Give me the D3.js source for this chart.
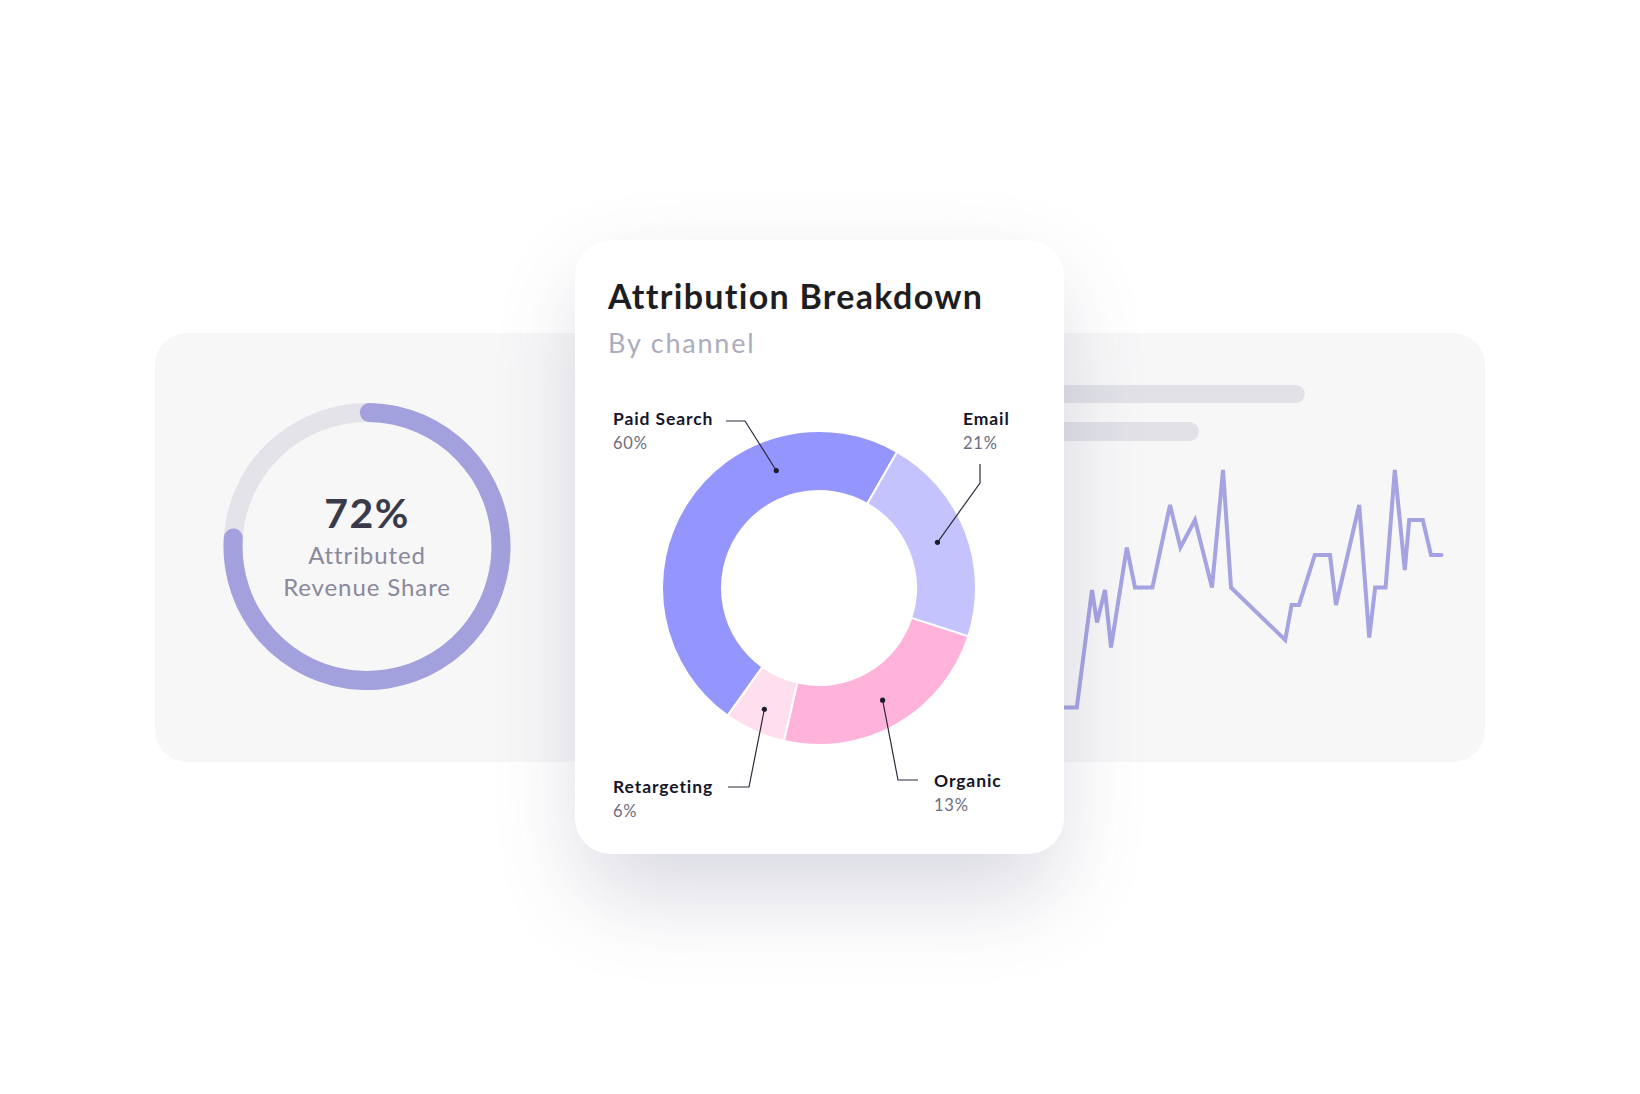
<!DOCTYPE html>
<html>
<head>
<meta charset="utf-8">
<script src="https://cdn.jsdelivr.net/npm/d3@7"></script>
<style>
  body { margin: 0; background: #ffffff; }
  svg { display: block; font-family: "Lato", "Noto Sans", sans-serif; }
</style>
</head>
<body>
<div id="chart"></div>
<script>
// data
var channels = ["Paid Search", "Email", "Organic", "Retargeting"];
var channelLabels = ["60%", "21%", "13%", "6%"];
var channelShares = [48.4, 21.7, 23.6, 6.3];   // slice sizes as drawn
var channelColors = ["#9595fe", "#c5c3fd", "#ffb3da", "#ffdfee"];

var ringLabel = "72%";
var ringShare = 0.78;                          // arc as drawn
var ringCaption = ["Attributed", "Revenue Share"];

var sparkT = [0, 9.2, 13, 14.25, 16.25, 17.75, 21.7, 23.75, 28.1, 32.5, 35.1, 38.75, 43, 45.75, 47.75,
  61.3, 62.9, 64.75, 68.7, 72.5, 74, 79.8, 82.3, 83.8, 86.4, 88.7, 91.2, 92.3, 95.7, 97.75, 100.4];
var sparkV = [5, 5, 52, 39, 52, 29, 69, 53, 53, 86, 69, 80, 53, 100, 53,
  32, 46, 46, 66, 66, 46, 86, 33, 53, 53, 100, 60, 80, 80, 66, 66];

var svgWidth = 1640;
var svgHeight = 1094;

var svg = d3.select("#chart")
  .append("svg")
  .attr("width", svgWidth)
  .attr("height", svgHeight);

// soft blur for the card shadow
var defs = svg.append("defs");
defs.append("filter")
  .attr("id", "blur")
  .attr("filterUnits", "userSpaceOnUse")
  .attr("x", 0).attr("y", 0)
  .attr("width", svgWidth).attr("height", svgHeight)
  .append("feGaussianBlur")
  .attr("stdDeviation", 46);

// back panel
svg.append("rect")
  .attr("x", 155).attr("y", 333)
  .attr("width", 1330).attr("height", 429)
  .attr("rx", 32)
  .attr("fill", "#f7f7f8");

// ---- left ring ----
var ring = svg.append("g")
  .attr("transform", "translate(367, 546.5)");

var ringArc = d3.arc()
  .innerRadius(124.5)
  .outerRadius(143.5)
  .cornerRadius(9.5);

var ringStart = -3.1 * Math.PI / 180;

ring.append("path")
  .attr("d", ringArc({ startAngle: 0, endAngle: 2 * Math.PI }))
  .attr("fill", "#e4e3ea");

ring.append("path")
  .attr("d", ringArc({ startAngle: ringStart, endAngle: ringStart + ringShare * 2 * Math.PI }))
  .attr("fill", "#a3a0de");

ring.append("text")
  .attr("text-anchor", "middle")
  .attr("y", -19)
  .attr("font-size", 41)
  .attr("font-weight", 700)
  .attr("letter-spacing", 1.5)
  .attr("fill", "#3a3a4b")
  .text(ringLabel);

ring.selectAll(".caption")
  .data(ringCaption)
  .enter()
  .append("text")
  .attr("class", "caption")
  .attr("text-anchor", "middle")
  .attr("y", (d, i) => 17.5 + i * 32)
  .attr("font-size", 24)
  .attr("letter-spacing", 0.9)
  .attr("fill", "#8a889c")
  .text(d => d);

// ---- right side: placeholder bars + sparkline ----
svg.append("rect")
  .attr("x", 1000).attr("y", 385)
  .attr("width", 305).attr("height", 18)
  .attr("rx", 9)
  .attr("fill", "#e1e1e7");

svg.append("rect")
  .attr("x", 1000).attr("y", 422)
  .attr("width", 199).attr("height", 19)
  .attr("rx", 9.5)
  .attr("fill", "#e1e1e7");

var xSpark = d3.scaleLinear().domain([0, 100]).range([1040, 1440]);
var ySpark = d3.scaleLinear().domain([0, 100]).range([720, 470]);

var sparkLine = d3.line()
  .x((d, i) => xSpark(sparkT[i]))
  .y(d => ySpark(d));

svg.append("path")
  .datum(sparkV)
  .attr("d", sparkLine)
  .attr("fill", "none")
  .attr("stroke", "#a5a3e1")
  .attr("stroke-width", 4)
  .attr("stroke-linejoin", "miter")
  .attr("stroke-linecap", "round");

// ---- front card ----
svg.append("rect")
  .attr("x", 585).attr("y", 280)
  .attr("width", 469).attr("height", 614)
  .attr("rx", 36)
  .attr("fill", "#3c3c6c")
  .attr("opacity", 0.2)
  .attr("filter", "url(#blur)");

svg.append("rect")
  .attr("x", 575).attr("y", 240)
  .attr("width", 489).attr("height", 614)
  .attr("rx", 36)
  .attr("fill", "#ffffff");

svg.append("text")
  .attr("x", 608).attr("y", 309)
  .attr("font-size", 34)
  .attr("font-weight", 700)
  .attr("letter-spacing", 1.3)
  .attr("fill", "#1e1e22")
  .text("Attribution Breakdown");

svg.append("text")
  .attr("x", 608).attr("y", 353)
  .attr("font-size", 27)
  .attr("letter-spacing", 1.8)
  .attr("fill", "#adacbf")
  .text("By channel");

// donut
var donut = svg.append("g")
  .attr("transform", "translate(819, 588)");

var startA = -144.4 * Math.PI / 180;
var pie = d3.pie()
  .sort(null)
  .startAngle(startA)
  .endAngle(startA + 2 * Math.PI);

var arcs = pie(channelShares);

var arc = d3.arc()
  .innerRadius(97)
  .outerRadius(157);

donut.selectAll(".slice")
  .data(arcs)
  .enter()
  .append("path")
  .attr("class", "slice")
  .attr("d", arc)
  .attr("fill", (d, i) => channelColors[i])
  .attr("stroke", "#ffffff")
  .attr("stroke-width", 2);

// label layout (relative to donut centre)
var labelLayout = [
  { anchorAngle: 340, anchorR: 125, elbow: [-74, -167], end: [-93, -167], text: [-206, -163] },
  { anchorAngle: null, anchorR: 127, elbow: [161, -105], end: [161, -124], text: [144, -163] },
  { anchorAngle: null, anchorR: 129, elbow: [79, 192], end: [99, 192], text: [115, 199] },
  { anchorAngle: null, anchorR: 133, elbow: [-70, 199], end: [-91, 199], text: [-206, 205] }
];

function anchorPoint(d, i) {
  var lay = labelLayout[i];
  var a = lay.anchorAngle !== null ? lay.anchorAngle * Math.PI / 180 : (d.startAngle + d.endAngle) / 2;
  return [lay.anchorR * Math.sin(a), -lay.anchorR * Math.cos(a)];
}

donut.selectAll(".leader")
  .data(arcs)
  .enter()
  .append("polyline")
  .attr("class", "leader")
  .attr("points", (d, i) => [anchorPoint(d, i), labelLayout[i].elbow, labelLayout[i].end].map(p => p.join(",")).join(" "))
  .attr("fill", "none")
  .attr("stroke", "#2b2b3b")
  .attr("stroke-width", 1.2);

donut.selectAll(".dot")
  .data(arcs)
  .enter()
  .append("circle")
  .attr("class", "dot")
  .attr("cx", (d, i) => anchorPoint(d, i)[0])
  .attr("cy", (d, i) => anchorPoint(d, i)[1])
  .attr("r", 2.6)
  .attr("fill", "#1c1c2c");

donut.selectAll(".name")
  .data(channels)
  .enter()
  .append("text")
  .attr("class", "name")
  .attr("x", (d, i) => labelLayout[i].text[0])
  .attr("y", (d, i) => labelLayout[i].text[1])
  .attr("font-size", 17.5)
  .attr("font-weight", 700)
  .attr("letter-spacing", 0.9)
  .attr("fill", "#16162a")
  .text(d => d);

donut.selectAll(".pct")
  .data(channelLabels)
  .enter()
  .append("text")
  .attr("class", "pct")
  .attr("x", (d, i) => labelLayout[i].text[0])
  .attr("y", (d, i) => labelLayout[i].text[1] + 24)
  .attr("font-size", 16.5)
  .attr("letter-spacing", 0.8)
  .attr("fill", "#6d6c80")
  .text(d => d);
</script>
</body>
</html>
